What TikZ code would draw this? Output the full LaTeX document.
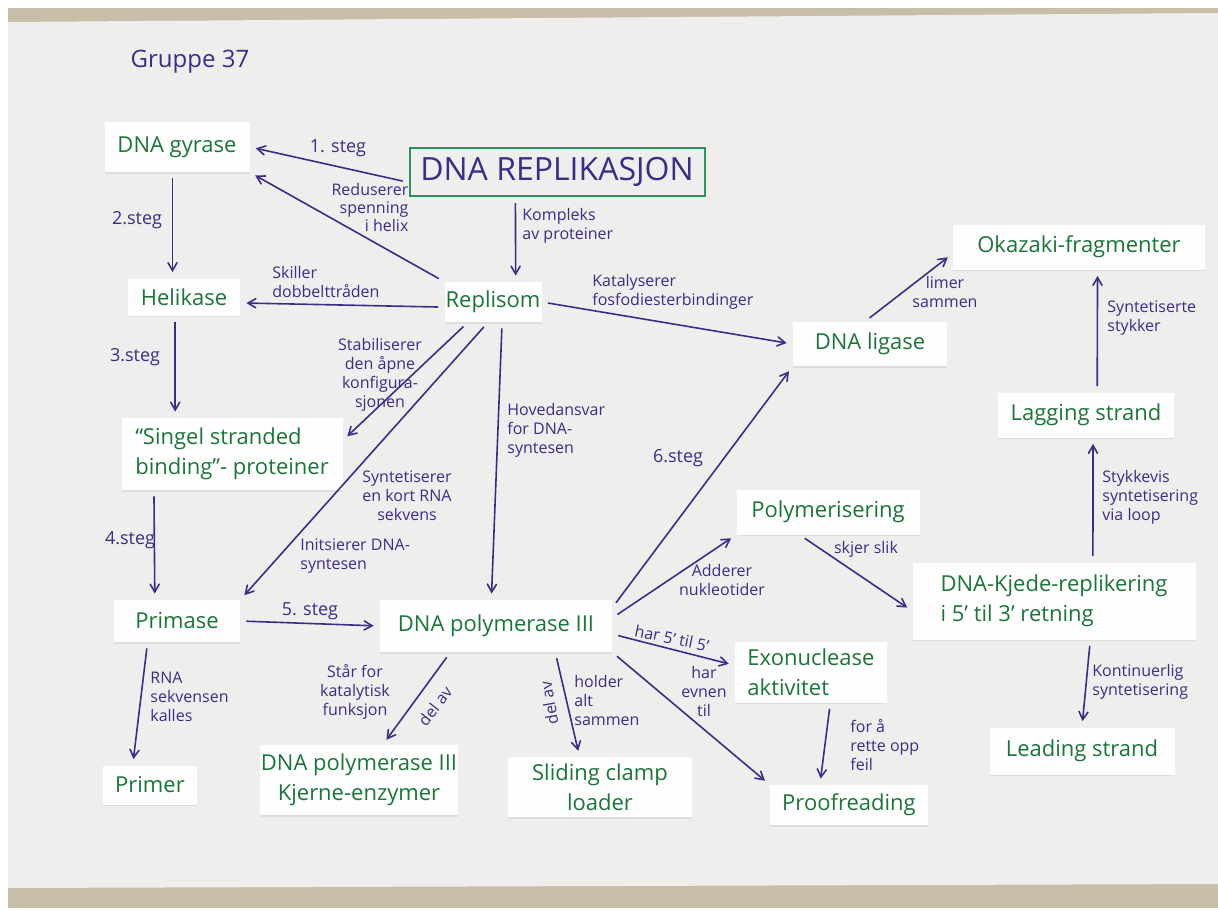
\documentclass[tikz,border=0pt]{standalone}
\usepackage{fontspec}
\setmainfont{Open Sans}
\usetikzlibrary{arrows,shadows}
\definecolor{ink}{RGB}{56,46,138}
\definecolor{leaf}{RGB}{26,118,56}
\definecolor{frame}{RGB}{38,150,92}
\definecolor{paper}{RGB}{239,238,236}
\definecolor{tape}{RGB}{198,190,168}
\colorlet{strip}{white!96!paper}

\begin{document}
\begin{tikzpicture} [x=0.5pt, y=-0.5pt, >=angle 60, %
  box/.style={rectangle, fill=strip, text=leaf, inner sep=0pt, %
    font=\fontsize{11}{15}\selectfont, %
    drop shadow={shadow xshift=0pt, shadow yshift=-0.8pt, opacity=0.15}}, %
  title/.style={rectangle, draw=frame, line width=1pt, text=ink, inner sep=0pt, %
    font=\fontsize{16}{18}\selectfont}, %
  lbl/.style={text=ink, inner sep=0pt, align=left, font=\fontsize{8}{9.5}\selectfont}, %
  stp/.style={lbl, font=\fontsize{9}{10}\selectfont}, %
  arr/.style={->, draw=ink, line width=0.8pt, shorten >=3pt, shorten <=3pt}] %
\useasboundingbox (0,0) rectangle (1218,910); %
\fill [white] (0,0) rectangle (1218,910); %
\fill [tape] (8,8) rectangle (1218,908); %
\fill [paper] (8,22) -- (1218,13) -- (1218,884) -- (8,888) -- cycle; %
 %
\node [lbl, font=\fontsize{12}{14}\selectfont] (grp) at (190,62) {Gruppe 37}; %
 %
% begreper
\node [title, minimum width=147.5pt, minimum height=24pt] (dnarep) at (557,172) {DNA REPLIKASJON}; %
\node [box, minimum width=72.5pt, minimum height=25pt] (gyr) at (177,147) {DNA gyrase}; %
\node [box, minimum width=48.5pt, minimum height=20pt] (replisom) at (493,302) {Replisom}; %
\node [box, minimum width=56pt, minimum height=18.5pt] (heli) at (184,297) {Helikase}; %
\node [box, minimum width=110.5pt, minimum height=36pt, align=left] (ssb) at (232,454) %
  {“Singel stranded\\binding”- proteiner}; %
\node [box, minimum width=63pt, minimum height=21pt] (primase) at (177,621) {Primase}; %
\node [box, minimum width=116pt, minimum height=26pt] (pol) at (496,626) {DNA polymerase III}; %
\node [box, minimum width=47pt, minimum height=19.5pt] (primer) at (150,785) {Primer}; %
\node [box, minimum width=99pt, minimum height=35pt, align=center] (core) at (359,780) %
  {DNA polymerase III\\Kjerne-enzymer}; %
\node [box, minimum width=92pt, minimum height=30pt, align=center] (clamp) at (600,787) %
  {Sliding clamp\\loader}; %
\node [box, minimum width=76pt, minimum height=30.5pt, align=left] (exo) at (811,672) %
  {Exonuclease\\aktivitet}; %
\node [box, minimum width=79pt, minimum height=20pt] (proof) at (849,805) {Proofreading}; %
\node [box, minimum width=91.5pt, minimum height=22.5pt] (polym) at (828,512) {Polymerisering}; %
\node [box, minimum width=141.5pt, minimum height=38.5pt, align=left] (chain) at (1054,601) %
  {DNA-Kjede-replikering\\i 5’ til 3’ retning}; %
\node [box, minimum width=92.5pt, minimum height=23.5pt] (leading) at (1082,751) {Leading strand}; %
\node [box, minimum width=88pt, minimum height=22.5pt] (lagging) at (1086,415) {Lagging strand}; %
\node [box, minimum width=126pt, minimum height=22.5pt] (okazaki) at (1079,247) {Okazaki-fragmenter}; %
\node [box, minimum width=77pt, minimum height=22pt] (ligase) at (870,344) {DNA ligase}; %
 %
% piler
\draw [arr] (dnarep.184) -- (gyr.east); %
\draw [arr] (replisom.north west) -- (gyr.south east); %
\draw [arr] (dnarep.211) -- (replisom.42); %
\draw [arr] (gyr.260) -- (gyr.260 |- heli.north); %
\draw [arr] (replisom.186) -- (heli.354); %
\draw [arr] (heli.245) -- (heli.245 |- ssb.north); %
\draw [arr] (replisom.219) -- (ssb.7); %
\draw [arr] (replisom.256) -- (primase.north east); %
\draw [arr] (replisom.294) -- (pol.100); %
\draw [arr] (replisom.east) -- (ligase.west); %
\draw [arr] (ssb.205) -- (primase.136); %
\draw [arr] (primase.east) -- (pol.west); %
\draw [arr] (pol.9) -- (ligase.south west); %
\draw [arr] (pol.4) -- (polym.south west); %
\draw [arr] (pol.356) -- (exo.175); %
\draw [arr] (pol.south east) -- (proof.north west); %
\draw [arr] (pol.210) -- (core.56); %
\draw [arr] (pol.336) -- (clamp.124); %
\draw [arr] (primase.216) -- (primer.131); %
\draw [arr] (polym.219) -- (chain.184); %
\draw [arr] (chain.313) -- (leading.north); %
\draw [arr] (chain.45) -- (lagging.287); %
\draw [arr] (lagging.64) -- (okazaki.309); %
\draw [arr] (ligase.103) -- (okazaki.183); %
\draw [arr] (exo.302) -- (proof.145); %
 %
% tekst langs pilene
\node [stp] (s1) at (338,148) {1. steg}; %
\node [stp] (s2) at (137,220) {2.steg}; %
\node [stp] (s3) at (135,357) {3.steg}; %
\node [stp] (s4) at (130,540) {4.steg}; %
\node [stp] (s5) at (310,611) {5. steg}; %
\node [stp] (s6) at (678,458) {6.steg}; %
\node [lbl, align=right, font=\fontsize{8}{9}\selectfont] (lred) at (370,207) {Reduserer\\spenning\\i helix}; %
\node [lbl, anchor=west] (lkom) at (522,226) {Kompleks\\av proteiner}; %
\node [lbl, anchor=west] (lski) at (272,282) {Skiller\\dobbelttråden}; %
\node [lbl, align=center] (lsta) at (380,375) {Stabiliserer\\den åpne\\konfigura-\\sjonen}; %
\node [lbl, align=center] (lsyn) at (407,496) {Syntetiserer\\en kort RNA\\sekvens}; %
\node [lbl, anchor=west] (lini) at (300,556) {Initsierer DNA-\\syntesen}; %
\node [lbl, anchor=west] (lhov) at (507,430) {Hovedansvar\\for DNA-\\syntesen}; %
\node [lbl, anchor=west] (lkat) at (592,292) {Katalyserer\\fosfodiesterbindinger}; %
\node [lbl, align=center] (ladd) at (722,580) {Adderer\\nukleotider}; %
\node [lbl, rotate=-12] (lhar) at (672,638) {har 5’ til 5’}; %
\node [lbl, align=center] (levn) at (704,691) {har\\evnen\\til}; %
\node [lbl, align=center] (lkat2) at (355,692) {Står for\\katalytisk\\funksjon}; %
\node [lbl, rotate=52] (ldel1) at (435,706) {del av}; %
\node [lbl, rotate=100] (ldel2) at (549,703) {del av}; %
\node [lbl, anchor=west] (lhol) at (574,700) {holder\\alt\\sammen}; %
\node [lbl, anchor=west] (lrna) at (150,697) {RNA\\sekvensen\\kalles}; %
\node [lbl, anchor=west] (lsynt) at (1107,318) {Syntetiserte\\stykker}; %
\node [lbl, align=center] (llim) at (945,292) {limer\\sammen}; %
\node [lbl] (lskj) at (866,549) {skjer slik}; %
\node [lbl, anchor=west] (lsty) at (1102,497) {Stykkevis\\syntetisering\\via loop}; %
\node [lbl, anchor=west] (lkon) at (1092,682) {Kontinuerlig\\syntetisering}; %
\node [lbl, anchor=west] (lfor) at (850,745) {for å\\rette opp\\feil}; %
\end{tikzpicture}
\end{document}
